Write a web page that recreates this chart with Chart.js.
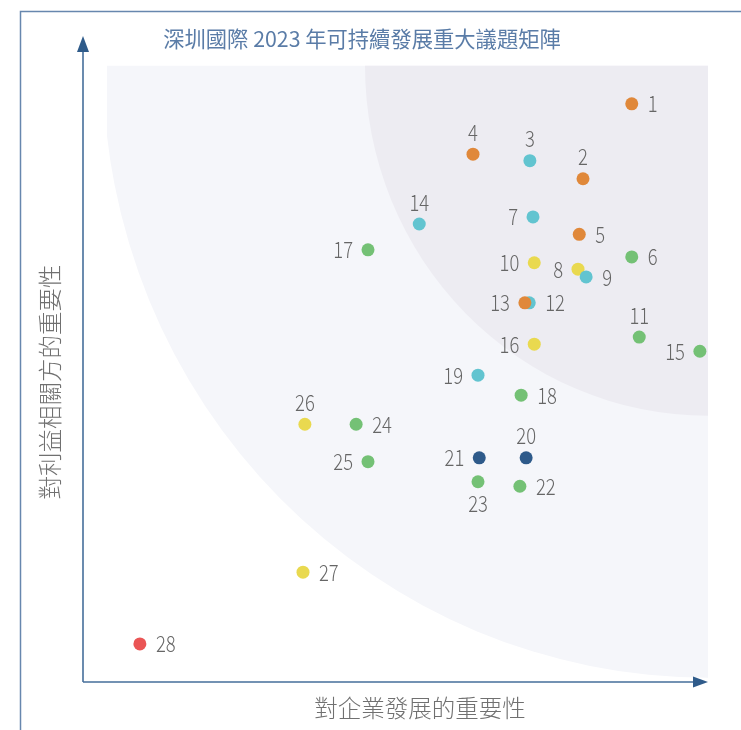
<!DOCTYPE html>
<html>
<head>
<meta charset="utf-8">
<script src="https://cdn.jsdelivr.net/npm/chart.js@4.4.1/dist/chart.umd.min.js"></script>
<style>
html,body{margin:0;padding:0;background:#fff;}
#c{display:block;}
</style>
</head>
<body>
<canvas id="c" width="741" height="730"></canvas>
<script>
// ---- data ----
const chartTitle = '深圳國際 2023 年可持續發展重大議題矩陣';
const xAxisTitle = '對企業發展的重要性';
const yAxisTitle = '對利益相關方的重要性';
const issueIds = [1,2,3,4,5,6,7,8,9,10,11,12,13,14,15,16,17,18,19,20,21,22,23,24,25,26,27,28];
const businessImportance = [87.8,80.0,71.5,62.4,79.4,87.8,72.0,79.2,80.5,72.2,89.0,71.4,70.7,53.8,98.7,72.2,45.6,70.1,63.2,70.9,63.4,69.9,63.2,43.7,45.6,35.5,35.2,9.1];
const stakeholderImportance = [89.5,77.9,80.7,81.7,69.3,65.8,72.0,63.9,62.7,64.9,53.4,58.7,58.7,70.9,51.2,52.3,66.9,44.4,47.5,34.7,34.7,30.3,31.0,39.9,34.1,39.9,17.0,5.9];
const issueGroup = ['A','A','B','A','A','D','B','C','B','C','D','B','A','B','D','C','D','D','B','E','E','D','D','D','D','C','C','F'];

// ---- presentation ----
const groupColors = {A:'#e0883a', B:'#62c4d0', C:'#e9d94f', D:'#74c175', E:'#2e5a8a', F:'#ea5555'};
const labelSide = ['r','t','t','t','r','r','l','l','r','l','t','r','l','t','l','l','l','r','l','t','l','r','b','r','l','t','r','r'];

const points = issueIds.map((id,i)=>({x:businessImportance[i], y:stakeholderImportance[i], id:id}));

const decor = {
  id:'decor',
  beforeDatasetsDraw(chart){
    const ctx = chart.ctx, xs = chart.scales.x, ys = chart.scales.y;
    ctx.save();
    // frame
    ctx.strokeStyle = '#6787ae';
    ctx.lineWidth = 1.5;
    ctx.beginPath();
    ctx.moveTo(20.5, 740); ctx.lineTo(20.5, 11.5); ctx.lineTo(745, 11.5);
    ctx.stroke();
    // background zones
    const L = xs.getPixelForValue(3.84), R = xs.getPixelForValue(100);
    const T = ys.getPixelForValue(95.4), B = ys.getPixelForValue(0.3);
    ctx.save();
    ctx.beginPath(); ctx.rect(L, T, R-L, B-T); ctx.clip();
    ctx.fillStyle = '#f5f6fa';
    ctx.beginPath();
    ctx.ellipse(R, T, 605, 612, 0, 0, Math.PI*2);
    ctx.fill();
    ctx.fillStyle = '#edecf2';
    ctx.beginPath();
    ctx.ellipse(R, T, 343, 350, 0, 0, Math.PI*2);
    ctx.fill();
    ctx.restore();
    // axes
    const x0 = xs.getPixelForValue(0), y0 = ys.getPixelForValue(0);
    const x1 = xs.getPixelForValue(100), y1 = ys.getPixelForValue(100);
    ctx.strokeStyle = '#466f9b';
    ctx.lineWidth = 1.6;
    ctx.beginPath();
    ctx.moveTo(x0, y0); ctx.lineTo(x1-10, y0);
    ctx.moveTo(x0, y0); ctx.lineTo(x0, y1+12);
    ctx.stroke();
    ctx.fillStyle = '#2f5b8a';
    ctx.beginPath();
    ctx.moveTo(x1, y0); ctx.lineTo(x1-15, y0-5.5); ctx.lineTo(x1-15, y0+5.5); ctx.closePath();
    ctx.fill();
    ctx.beginPath();
    ctx.moveTo(x0, y1); ctx.lineTo(x0-6, y1+16); ctx.lineTo(x0+6, y1+16); ctx.closePath();
    ctx.fill();
    ctx.restore();
  },
  afterDatasetsDraw(chart){
    const ctx = chart.ctx;
    const meta = chart.getDatasetMeta(0);
    ctx.save();
    // title
    ctx.fillStyle = '#5a7ca7';
    ctx.font = '400 21.3px "Noto Sans CJK TC", "Noto Sans CJK SC", sans-serif';
    ctx.textAlign = 'center';
    ctx.textBaseline = 'middle';
    ctx.fillText(chartTitle, 362, 39);
    // axis titles
    ctx.fillStyle = '#707070';
    ctx.font = '300 23.5px "Noto Sans CJK TC", "Noto Sans CJK SC", sans-serif';
    ctx.fillText(xAxisTitle, 420, 708);
    ctx.save();
    ctx.translate(50, 382);
    ctx.rotate(-Math.PI/2);
    ctx.fillText(yAxisTitle, 0, 0);
    ctx.restore();
    // point labels
    ctx.fillStyle = '#666666';
    ctx.font = '300 22.5px "Noto Sans CJK TC", "Noto Sans CJK SC", sans-serif';
    ctx.textBaseline = 'middle';
    const sx = 0.82;
    meta.data.forEach((el, i)=>{
      const px = el.x, py = el.y, s = labelSide[i], txt = String(issueIds[i]);
      let tx = px, ty = py, align = 'center';
      if (s==='r'){ tx = px + 16; align='left'; }
      else if (s==='l'){ tx = px - 15; align='right'; }
      else if (s==='t'){ ty = py - 22; }
      else { ty = py + 22; }
      ctx.save();
      ctx.translate(tx, ty);
      ctx.scale(sx, 1);
      ctx.textAlign = align;
      ctx.fillText(txt, 0, 0);
      ctx.restore();
    });
    ctx.restore();
  }
};

new Chart(document.getElementById('c'), {
  type:'scatter',
  data:{
    datasets:[{
      data: points,
      backgroundColor: issueGroup.map(g=>groupColors[g]),
      pointRadius: 6.5,
      pointHoverRadius: 6.5,
      borderWidth: 0
    }]
  },
  options:{
    responsive:false,
    devicePixelRatio:1,
    animation:false,
    layout:{padding:{left:83, right:33, top:36, bottom:48}},
    scales:{
      x:{type:'linear', min:0, max:100, display:false},
      y:{type:'linear', min:0, max:100, display:false}
    },
    plugins:{legend:{display:false}, title:{display:false}, tooltip:{enabled:false}},
    events:[]
  },
  plugins:[decor]
});
</script>
</body>
</html>
